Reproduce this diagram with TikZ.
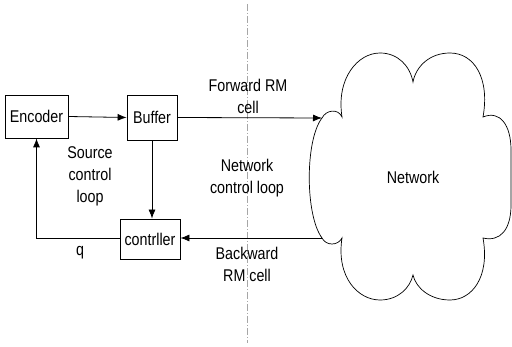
\documentclass[tikz,border=0pt]{standalone}
\usepackage{fontspec}
\setmainfont{Liberation Sans}[FakeStretch=0.84]
\usetikzlibrary{arrows.meta}
\tikzset{
  box/.style={draw, line width=0.8pt, inner sep=0pt},
  lbl/.style={font=\fontsize{17}{22}\selectfont, align=center, inner sep=0pt},
  conn/.style={line width=0.8pt, -{Latex[length=9pt,width=7pt]}},
  plain/.style={line width=0.8pt},
}
\begin{document}
\begin{tikzpicture}[x=1pt,y=-1pt]
\useasboundingbox (0,0) rectangle (512,347);
% center divider
\draw[gray!70, line width=0.6pt, dash pattern=on 7pt off 2pt on 1pt off 2pt] (247,4) -- (247,343);
% nodes
\node[box, minimum width=63pt, minimum height=43pt, lbl] (enc) at (36.5,116.5) {Encoder};
\node[box, minimum width=50pt, minimum height=45pt, lbl] (buf) at (152,117.5) {Buffer};
\node[box, minimum width=60pt, minimum height=40pt, lbl] (ctrl) at (150,239) {contrller};
% cloud
\draw[line width=0.7pt]
  (322,118) .. controls (326,110) and (338,108) .. (342,117)
  .. controls (336,78) and (358,53) .. (380,53)
  .. controls (398,53) and (410,66) .. (413,82)
  .. controls (416,66) and (430,53) .. (450,53)
  .. controls (474,53) and (490,78) .. (483,117)
  .. controls (500,110) and (511,125) .. (511,150)
  -- (511,205)
  .. controls (511,230) and (500,242) .. (483,238)
  .. controls (490,277) and (472,300) .. (450,300)
  .. controls (430,300) and (416,288) .. (413,275)
  .. controls (410,288) and (398,300) .. (380,300)
  .. controls (358,300) and (336,277) .. (342,238)
  .. controls (338,246) and (326,246) .. (322,238)
  .. controls (305,215) and (305,140) .. (322,118) -- cycle;
\node[lbl] (net) at (413,177) {Network};
\coordinate (netin) at (322,118);
\coordinate (netout) at (322,238);
% connectors
\draw[conn] (enc.east) -- (buf.west);
\draw[conn] (buf.east) -- (netin);
\draw[conn] (buf.south) -- (buf.south |- ctrl.north);
\draw[conn] (netout) -- (ctrl.east |- netout);
\draw[conn] (ctrl.west |- netout) -| (enc.south);
% labels
\node[lbl] (fwd) at (248,96) {Forward RM\\cell};
\node[lbl] (ncl) at (247,178) {Network\\control loop};
\node[lbl] (bwd) at (247,264) {Backward\\RM cell};
\node[lbl] (scl) at (90,176) {Source\\control\\loop};
\node[lbl] (q) at (80,253) {q};
\end{tikzpicture}
\end{document}
